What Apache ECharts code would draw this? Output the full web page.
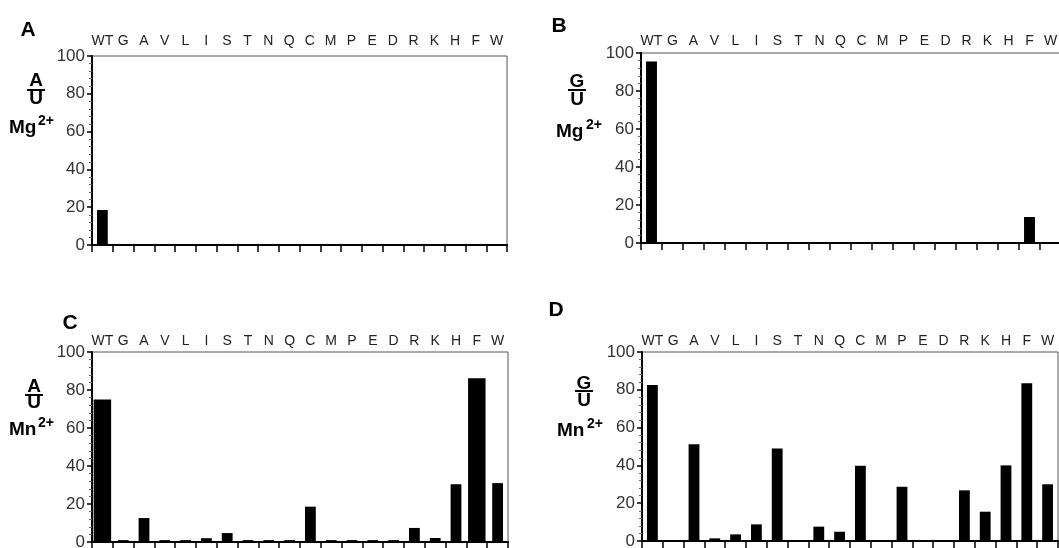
<!DOCTYPE html>
<html>
<head>
<meta charset="utf-8">
<script src="https://cdn.jsdelivr.net/npm/echarts@6/dist/echarts.min.js"></script>
<style>
html,body{margin:0;padding:0;background:#fff;}
#chart{width:1059px;height:548px;}
</style>
</head>
<body>
<div id="chart"></div>
<script>
// ---- data ----
var categories = ['WT','G','A','V','L','I','S','T','N','Q','C','M','P','E','D','R','K','H','F','W'];
var yTicks = [0, 20, 40, 60, 80, 100];
var panelA_AU_Mg = [18.5,0,0,0,0,0,0,0,0,0,0,0,0,0,0,0,0,0,0,0];
var panelB_GU_Mg = [95.5,0,0,0,0,0,0,0,0,0,0,0,0,0,0,0,0,0,13.7,0];
var panelC_AU_Mn = [75,1,12.6,1,1,2,4.7,1,1,1,18.6,1,1,1,1,7.4,2.1,30.4,86.2,31];
var panelD_GU_Mn = [82.5,0,51.2,1.4,3.5,8.8,49,0,7.6,4.9,39.8,0,28.7,0,0,26.8,15.5,40,83.4,30];
var panelLetters = ['A','B','C','D'];
var fractionTop = ['A','G','A','G'];
var fractionBottom = ['U','U','U','U'];
var ions = ['Mg','Mg','Mn','Mn'];

// ---- layout / style ----
var grids = [
  {left:92, top:56, width:415, height:189},
  {left:641, top:53, width:420, height:190},
  {left:92, top:352, width:416, height:190},
  {left:642, top:352, width:416, height:189}
];
var topLabelMargin = [8,5,4,4];
// categories drawn with a wider bar in the original figure (panel index -> category names)
var wideBars = {2:['WT','F']};
var seriesData = [panelA_AU_Mg, panelB_GU_Mg, panelC_AU_Mn, panelD_GU_Mn];
var FONT = "'Liberation Sans', Arial, sans-serif";
var NARROW = "'Liberation Sans Narrow', 'Liberation Sans', Arial, sans-serif";

var option = {
  animation:false,
  backgroundColor:'#fff',
  grid: grids.map(function(g){ return Object.assign({show:true, borderColor:'#555', borderWidth:1, outerBoundsMode:'none', containLabel:false}, g); }),
  xAxis: [],
  yAxis: [],
  series: [],
  graphic: []
};

grids.forEach(function(g, i){
  var base = option.xAxis.length;
  option.xAxis.push({
    type:'category', gridIndex:i, data:categories, position:'bottom', boundaryGap:true,
    axisLine:{show:true, lineStyle:{color:'#000', width:2}},
    axisTick:{show:true, interval:0, length:7, inside:false, lineStyle:{color:'#000', width:1.5}},
    axisLabel:{show:false}, splitLine:{show:false}, z:3
  });
  option.xAxis.push({
    type:'category', gridIndex:i, data:categories, position:'top', boundaryGap:true,
    axisLine:{show:false}, axisTick:{show:false},
    axisLabel:{show:true, interval:0, margin:topLabelMargin[i], fontSize:14, color:'#222', fontFamily:NARROW},
    splitLine:{show:false}
  });
  option.xAxis.push({
    type:'category', gridIndex:i, data:categories, position:'bottom', boundaryGap:true, show:false
  });
  option.yAxis.push({
    type:'value', gridIndex:i, min:yTicks[0], max:yTicks[yTicks.length-1], interval:20,
    axisLine:{show:true, lineStyle:{color:'#000', width:2}},
    axisTick:{show:true, length:5, lineStyle:{color:'#000', width:1.5}},
    minorTick:{show:true, splitNumber:5, length:3, lineStyle:{color:'#666', width:1}},
    axisLabel:{show:true, margin:7, fontSize:17, color:'#333', fontFamily:FONT},
    splitLine:{show:false}
  });
  var wide = wideBars[i] || [];
  option.series.push({
    type:'bar', xAxisIndex:base, yAxisIndex:i,
    data:seriesData[i].map(function(v,k){ return wide.indexOf(categories[k])>=0 ? null : v; }),
    barWidth:'52%', itemStyle:{color:'#000'}, silent:true
  });
  if (wide.length) {
    option.series.push({
      type:'bar', xAxisIndex:base+2, yAxisIndex:i,
      data:seriesData[i].map(function(v,k){ return wide.indexOf(categories[k])>=0 ? v : null; }),
      barWidth:'84%', itemStyle:{color:'#000'}, silent:true
    });
  }
});

// panel letters
var letterPos = [[28,30],[559,26],[70,323],[556,310]];
// fraction label positions: [centerX, topLetterY, lineY, bottomLetterY, ionX, ionY, supOffset]
var fracPos = [
  [36, 81, 90, 99, 9, 128, 29],
  [577, 82, 90, 100, 556, 132, 30],
  [34, 387, 395, 403, 9, 430, 29],
  [584, 384, 391, 401, 557, 431, 30]
];
panelLetters.forEach(function(L, i){
  option.graphic.push({type:'text', x:letterPos[i][0], y:letterPos[i][1],
    style:{text:L, font:'bold 21px '+FONT, fill:'#000', align:'center', verticalAlign:'middle'}});
  var p = fracPos[i];
  option.graphic.push({type:'text', x:p[0], y:p[1],
    style:{text:fractionTop[i], font:'bold 19px '+FONT, fill:'#000', align:'center', verticalAlign:'middle'}});
  option.graphic.push({type:'line', shape:{x1:p[0]-9, y1:p[2], x2:p[0]+9, y2:p[2]},
    style:{stroke:'#000', lineWidth:2}});
  option.graphic.push({type:'text', x:p[0], y:p[3],
    style:{text:fractionBottom[i], font:'bold 19px '+FONT, fill:'#000', align:'center', verticalAlign:'middle'}});
  option.graphic.push({type:'text', x:p[4], y:p[5],
    style:{text:ions[i], font:'bold 19px '+FONT, fill:'#000', align:'left', verticalAlign:'middle'}});
  option.graphic.push({type:'text', x:p[4]+p[6], y:p[5]-7,
    style:{text:'2+', font:'bold 14px '+FONT, fill:'#000', align:'left', verticalAlign:'middle'}});
});

var chart = echarts.init(document.getElementById('chart'), null, {renderer:'canvas'});
chart.setOption(option);
</script>
</body>
</html>
